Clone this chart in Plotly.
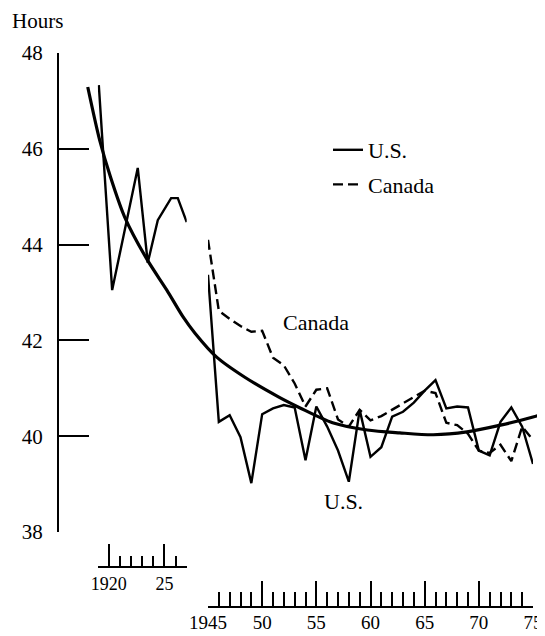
import plotly.graph_objects as go

# ---------------- data ----------------
# early period, U.S. average weekly hours
us_early_years = [1919.1, 1920.3, 1922.6, 1923.5, 1924.4, 1925.6, 1926.2, 1927.0]
us_early_hours = [47.33, 43.05, 45.60, 43.62, 44.51, 44.97, 44.97, 44.47]

# post-war period
years = list(range(1945, 1976))
us_hours = [43.37, 40.30, 40.44, 39.98, 39.02, 40.46, 40.58, 40.65, 40.60, 39.50,
            40.62, 40.20, 39.70, 39.05, 40.55, 39.57, 39.77, 40.41, 40.51, 40.70,
            40.95, 41.17, 40.58, 40.62, 40.60, 39.70, 39.60, 40.30, 40.60, 40.20,
            39.42]
canada_hours = [44.10, 42.62, 42.45, 42.30, 42.18, 42.20, 41.64, 41.48, 41.10, 40.62,
                40.97, 41.00, 40.35, 40.20, 40.55, 40.33, 40.42, 40.55, 40.69, 40.82,
                40.95, 40.90, 40.28, 40.23, 40.05, 39.70, 39.65, 39.82, 39.48, 40.20,
                39.92]

# fitted trend (position on a continuous time index spanning both panels)
trend_pos = [1933.9, 1935.0, 1936.0, 1937.3, 1939.4, 1941.2, 1942.7, 1943.8, 1945.8,
             1948.4, 1951.5, 1953.5, 1956.5, 1959.7, 1962.7, 1965.8, 1968.9, 1972.0,
             1975.0, 1976.1]
trend_hours = [47.29, 46.18, 45.41, 44.58, 43.68, 43.05, 42.49, 42.15, 41.65,
               41.23, 40.82, 40.59, 40.28, 40.13, 40.07, 40.03, 40.09, 40.23,
               40.40, 40.48]

y_ticks = [38, 40, 42, 44, 46, 48]
early_tickvals = [1920, 1925]
early_ticktext = ["1920", "25"]
late_tickvals = [1945, 1950, 1955, 1960, 1965, 1970, 1975]
late_ticktext = ["1945", "50", "55", "60", "65", "70", "75"]

# ---------------- layout geometry ----------------
OFF = 8                      # page body margin
W, H = 545 - OFF, 636 - OFF
FONT = "Liberation Serif"

def fx(px):
    return (px - OFF) / W

def fy(py):
    return 1 - (py - OFF) / H

x1_px = (97.7, 186.7)
x2_px = (208.0, 533.0)
ppy = (x2_px[1] - x2_px[0]) / 30.0
x3_range = [1945 - (x2_px[0] - OFF) / ppy, 1945 + (545 - x2_px[0]) / ppy]

fig = go.Figure()

fig.add_trace(go.Scatter(
    x=trend_pos, y=trend_hours, xaxis="x3", yaxis="y", mode="lines",
    line=dict(color="black", width=3.2, shape="spline", smoothing=0.8),
    showlegend=False, hoverinfo="skip"))

fig.add_trace(go.Scatter(
    x=us_early_years, y=us_early_hours, xaxis="x", yaxis="y", mode="lines",
    line=dict(color="black", width=2.4), showlegend=False))

fig.add_trace(go.Scatter(
    x=years, y=us_hours, xaxis="x2", yaxis="y", mode="lines",
    line=dict(color="black", width=2.4), name="U.S.", legendgroup="us"))

fig.add_trace(go.Scatter(
    x=years, y=canada_hours, xaxis="x2", yaxis="y", mode="lines",
    line=dict(color="black", width=2.4, dash="10px,5px"), name="Canada",
    legendgroup="ca"))

axis_common = dict(showgrid=False, zeroline=False, showline=True, linecolor="black",
                   linewidth=2, ticks="inside", tickcolor="black", tickwidth=2,
                   automargin=False)

fig.update_layout(
    width=W, height=H, autosize=False,
    margin=dict(l=0, r=0, t=0, b=0, pad=0),
    paper_bgcolor="white", plot_bgcolor="rgba(0,0,0,0)",
    font=dict(family=FONT, color="black"),
    yaxis=dict(domain=[fy(532), fy(53)], range=[38, 48], anchor="free",
               position=fx(58), tickvals=y_ticks, ticklen=30,
               tickfont=dict(size=21, family=FONT), ticklabelstandoff=10,
               **axis_common),
    xaxis=dict(domain=[fx(x1_px[0]), fx(x1_px[1])], range=[1919, 1927],
               anchor="free", position=fy(567),
               tickvals=early_tickvals, ticktext=early_ticktext, ticklen=22,
               minor=dict(dtick=1, tick0=1919, ticklen=10, ticks="inside",
                          tickcolor="black", tickwidth=2),
               tickfont=dict(size=18, family=FONT), **axis_common),
    xaxis2=dict(domain=[fx(x2_px[0]), fx(x2_px[1])], range=[1945, 1975],
                anchor="free", position=fy(607),
                tickvals=late_tickvals, ticktext=late_ticktext, ticklen=25,
                minor=dict(dtick=1, tick0=1945, ticklen=14, ticks="inside",
                           tickcolor="black", tickwidth=2),
                tickfont=dict(size=19, family=FONT), ticklabelstandoff=-2,
                **axis_common),
    xaxis3=dict(domain=[0, 1], range=x3_range, visible=False, anchor="y",
                fixedrange=True),
    legend=dict(x=fx(328), y=fy(129), xanchor="left", yanchor="top",
                font=dict(size=22, family=FONT), bgcolor="rgba(0,0,0,0)",
                tracegroupgap=3, itemwidth=30),
    annotations=[
        dict(text="Hours", xref="paper", yref="paper", x=fx(37), y=1.0,
             xanchor="center", yanchor="top", borderpad=0,
             showarrow=False, font=dict(size=21, family=FONT)),
        dict(text="Canada", xref="x2", yref="y", x=1955.0, y=42.38,
             xanchor="center", yanchor="middle",
             showarrow=False, font=dict(size=22, family=FONT)),
        dict(text="U.S.", xref="x2", yref="y", x=1957.5, y=38.63,
             xanchor="center", yanchor="middle",
             showarrow=False, font=dict(size=22, family=FONT)),
    ],
)

fig.write_html("out.html")
